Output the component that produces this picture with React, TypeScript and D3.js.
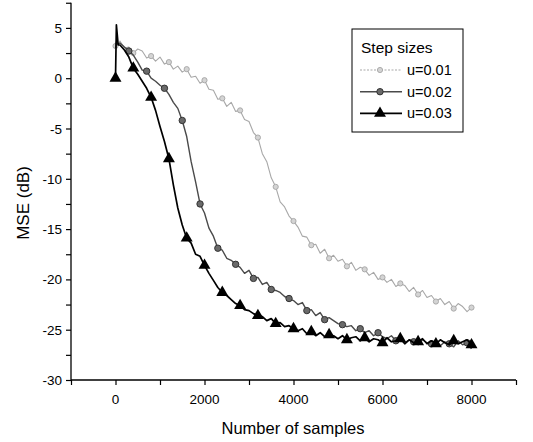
import React, { useRef, useEffect } from "react";
import * as d3 from "d3";

// sample index: the first few points catch the start-up spike
const SAMPLES = [0, 20, 60, ...d3.range(100, 8001, 100)];

// MSE in dB (first 3 at 0/20/60, then every 100 samples)
const U01 = [
  3.2, 3.5, 3.3,
  3.7, 3.0, 3.1, 2.5, 2.9, 2.7, 2.0, 2.2, 1.7, 2.1,
  1.4, 1.6, 0.9, 1.2, 0.6, 0.9, 0.1, 0.2, -0.5, -0.2,
  -1.1, -1.2, -2.1, -2.0, -2.8, -2.4, -3.3, -3.2, -4.1, -4.3,
  -5.4, -5.9, -7.5, -8.3, -9.9, -10.8, -12.3, -12.8, -13.7, -14.2,
  -14.8, -15.7, -15.8, -16.6, -16.5, -17.4, -17.0, -17.9, -17.6, -18.2,
  -18.0, -18.7, -18.3, -19.1, -18.8, -19.0, -19.6, -19.3, -20.0, -19.8,
  -20.3, -20.0, -20.7, -20.4, -20.6, -21.2, -20.8, -21.5, -21.1, -21.8,
  -21.6, -22.2, -21.9, -22.5, -22.2, -22.9, -22.4, -22.7, -23.2, -22.8,
];

const U02 = [
  3.0, 3.6, 3.4,
  3.5, 3.1, 2.7, 2.3, 1.6, 0.8, 0.7, 0.0, -0.3, -0.7,
  -1.0, -1.6, -2.4, -3.0, -4.2, -5.8, -8.3, -10.3, -12.5, -13.4,
  -14.9, -15.7, -16.9, -17.1, -17.9, -18.1, -18.5, -18.8, -19.4, -19.1,
  -19.9, -19.8, -20.5, -20.3, -21.0, -21.1, -21.3, -21.7, -21.9, -22.1,
  -22.5, -22.3, -23.1, -23.0, -23.6, -23.3, -24.0, -23.8, -24.1, -24.4,
  -24.5, -24.7, -24.6, -25.1, -24.9, -25.3, -25.1, -25.6, -25.3, -25.7,
  -25.9, -25.6, -26.1, -25.8, -26.3, -26.0, -26.2, -26.5, -26.0, -26.3,
  -26.4, -26.1, -26.6, -26.2, -26.4, -26.7, -26.1, -26.5, -26.3, -26.9,
];

const U03 = [
  0.0, 5.3, 3.3,
  3.3, 2.8, 2.1, 1.0, 0.4, -0.3, -1.0, -1.9, -3.2, -4.8,
  -6.3, -8.0, -10.6, -12.9, -14.6, -15.9, -16.4, -17.5, -17.7, -18.6,
  -19.4, -20.1, -20.8, -21.3, -21.6, -22.0, -22.4, -22.6, -23.0, -23.1,
  -23.4, -23.6, -23.7, -24.1, -23.9, -24.4, -24.3, -24.7, -24.6, -24.9,
  -25.1, -24.9, -25.4, -25.2, -25.6, -25.3, -25.7, -25.5, -25.6, -25.9,
  -25.6, -26.0, -25.8, -25.7, -26.1, -25.8, -26.2, -25.9, -26.0, -26.3,
  -25.8, -26.2, -26.1, -25.9, -26.4, -26.0, -26.3, -26.2, -25.9, -26.4,
  -26.1, -26.4, -26.0, -26.3, -26.5, -26.1, -26.4, -26.2, -26.0, -26.5,
];

// where the symbols sit
const U01_MARKS = d3.range(0, 8001, 400);
const U02_MARKS = d3.range(300, 8001, 400);
const U03_MARKS = d3.range(0, 8001, 400);

const LABELS = ["u=0.01", "u=0.02", "u=0.03"];
const X_TICKS = [0, 2000, 4000, 6000, 8000];
const Y_TICKS = [5, 0, -5, -10, -15, -20, -25, -30];

const App = () => {
  const svgRef = useRef<SVGSVGElement>(null);

  useEffect(() => {
    const svg = d3.select(svgRef.current);
    svg.selectAll("*").remove();

    const x = d3.scaleLinear().domain([-1000, 9000]).range([71, 516]);
    const y = d3.scaleLinear().domain([-30, 7.5]).range([380, 2.75]);
    const font = "Arial, 'Liberation Sans', sans-serif";

    const styles = [
      { values: U01, marks: U01_MARKS, color: "#a8a8a8", width: 1.1, sym: "gray" },
      { values: U02, marks: U02_MARKS, color: "#4a4a4a", width: 1.4, sym: "circle" },
      { values: U03, marks: U03_MARKS, color: "#000", width: 1.7, sym: "tri" },
    ];

    const line = d3
      .line<number>()
      .x((d, i) => x(SAMPLES[i]))
      .y((d) => y(d));

    const drawSymbol = (g: any, kind: string, cx: number, cy: number) => {
      if (kind === "tri") {
        g.append("path")
          .attr("d", d3.symbol().type(d3.symbolTriangle).size(62)())
          .attr("transform", `translate(${cx},${cy})`)
          .attr("fill", "#000");
      } else if (kind === "circle") {
        g.append("circle")
          .attr("cx", cx)
          .attr("cy", cy)
          .attr("r", 3.2)
          .attr("fill", "#6a6a6a")
          .attr("stroke", "#333")
          .attr("stroke-width", 1);
      } else {
        g.append("circle")
          .attr("cx", cx)
          .attr("cy", cy)
          .attr("r", 2.6)
          .attr("fill", "#d4d4d4")
          .attr("stroke", "#a5a5a5")
          .attr("stroke-width", 0.9);
      }
    };

    styles.forEach((s) => {
      const g = svg.append("g");
      g.append("path")
        .datum(s.values)
        .attr("d", line)
        .attr("fill", "none")
        .attr("stroke", s.color)
        .attr("stroke-width", s.width)
        .attr("stroke-linejoin", "round");
      s.marks.forEach((m) => {
        const i = SAMPLES.indexOf(m);
        if (i >= 0) drawSymbol(g, s.sym, x(SAMPLES[i]), y(s.values[i]));
      });
    });

    // axes
    const xAxis = svg.append("g").attr("transform", "translate(0,380)");
    xAxis
      .call(
        d3
          .axisBottom(x)
          .tickValues(d3.range(-1000, 9001, 1000))
          .tickSize(5)
          .tickFormat(() => "")
      )
      .call((g) => g.select(".domain").attr("d", "M71,0H516"));
    xAxis
      .selectAll(".tickLbl")
      .data(X_TICKS)
      .enter()
      .append("text")
      .attr("x", (d) => x(d))
      .attr("y", 24)
      .attr("fill", "#000")
      .attr("text-anchor", "middle")
      .attr("font-family", font)
      .attr("font-size", 13.5)
      .text((d) => d);

    const yAxis = svg.append("g").attr("transform", "translate(71,0)");
    yAxis
      .call(
        d3
          .axisLeft(y)
          .tickValues(d3.range(-30, 7.6, 2.5))
          .tickSize(5)
          .tickFormat(() => "")
      )
      .call((g) => g.select(".domain").attr("d", "M0,2.75V380"));
    yAxis
      .selectAll(".tickLbl")
      .data(Y_TICKS)
      .enter()
      .append("text")
      .attr("x", -9)
      .attr("y", (d) => y(d) + 5)
      .attr("fill", "#000")
      .attr("text-anchor", "end")
      .attr("font-family", font)
      .attr("font-size", 13.5)
      .text((d) => d);

    svg.selectAll(".tick line").attr("stroke", "#000").attr("stroke-width", 1.2);
    svg.selectAll(".domain").attr("stroke", "#000").attr("stroke-width", 1.3);

    svg
      .append("text")
      .attr("x", 293)
      .attr("y", 434)
      .attr("text-anchor", "middle")
      .attr("font-family", font)
      .attr("font-size", 16.5)
      .text("Number of samples");

    svg
      .append("text")
      .attr("transform", "translate(29,203) rotate(-90)")
      .attr("text-anchor", "middle")
      .attr("font-family", font)
      .attr("font-size", 17)
      .text("MSE (dB)");

    // legend
    const lg = svg.append("g");
    lg.append("rect")
      .attr("x", 352)
      .attr("y", 29)
      .attr("width", 111)
      .attr("height", 103)
      .attr("fill", "#fff")
      .attr("stroke", "#000")
      .attr("stroke-width", 1);
    lg.append("text")
      .attr("x", 361)
      .attr("y", 53)
      .attr("font-family", font)
      .attr("font-size", 15.5)
      .text("Step sizes");
    styles.forEach((s, i) => {
      const ly = 70 + i * 21.7;
      lg.append("line")
        .attr("x1", 360)
        .attr("x2", 402)
        .attr("y1", ly)
        .attr("y2", ly)
        .attr("stroke", s.color)
        .attr("stroke-width", s.width)
        .attr("stroke-dasharray", i === 0 ? "2,1.5" : null);
      drawSymbol(lg, s.sym, 380, ly);
      lg.append("text")
        .attr("x", 407)
        .attr("y", ly + 5)
        .attr("font-family", font)
        .attr("font-size", 14.5)
        .text(LABELS[i]);
    });
  }, []);

  return (
    <svg
      ref={svgRef}
      width="533"
      height="442"
      style={{ position: "absolute", left: 0, top: 0, background: "#fff" }}
    />
  );
};

export default App;
